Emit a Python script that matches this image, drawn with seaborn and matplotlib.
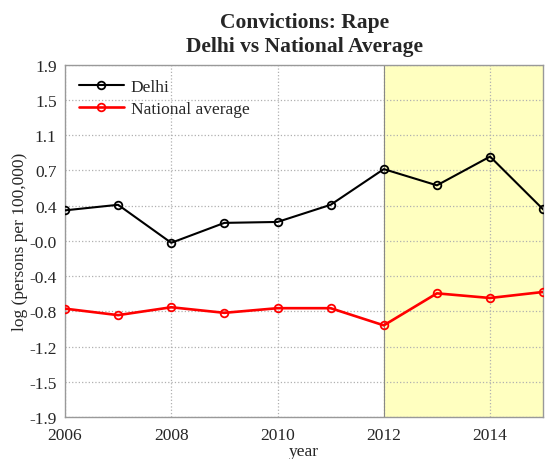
import numpy as np
import pandas as pd
import seaborn as sns
import matplotlib
matplotlib.use('Agg')
import matplotlib.pyplot as plt

years = [2006, 2007, 2008, 2009, 2010, 2011, 2012, 2013, 2014, 2015]
delhi = [0.33, 0.39, -0.02, 0.195, 0.205, 0.39, 0.775, 0.60, 0.91, 0.34]
national = [-0.73, -0.80, -0.715, -0.775, -0.725, -0.725, -0.91, -0.565, -0.615, -0.55]
series_names = ['Delhi', 'National average']
y_tick_labels = ['-1.9', '-1.5', '-1.2', '-0.8', '-0.4', '-0.0', '0.4', '0.7', '1.1', '1.5', '1.9']

df = pd.DataFrame({
    'year': years * 2,
    'value': delhi + national,
    'series': [series_names[0]] * len(years) + [series_names[1]] * len(years),
})

sns.set_style('white')
plt.rcParams['font.family'] = ['Liberation Serif', 'DejaVu Serif']

fig = plt.figure(figsize=(5.6, 4.6), dpi=100)
ax = fig.add_axes([0.116, 0.091, 0.854, 0.766])

# shaded period after 2012
ax.axvspan(2012, 2015, color='#ffffc0', zorder=0)
ax.axvline(2012, color='#888888', lw=0.8, zorder=1)

sns.lineplot(data=df, x='year', y='value', hue='series',
             palette={'Delhi': 'black', 'National average': 'red'},
             marker='o', markersize=5.5, linewidth=1.5, ax=ax, zorder=3)
for line in ax.lines:
    if line.get_marker() == 'o':
        line.set_markerfacecolor('none')
        line.set_markeredgecolor(line.get_color())
        line.set_markeredgewidth(1.3)
        if line.get_color() == 'red':
            line.set_linewidth(1.9)

ax.set_xlim(2006, 2015)
ax.set_ylim(-1.9, 1.9)
ax.set_xticks([2006, 2008, 2010, 2012, 2014])
ax.set_yticks(np.linspace(-1.9, 1.9, 11))
ax.set_yticklabels(y_tick_labels)
ax.tick_params(axis='y', length=0, labelsize=12.5, pad=6)
ax.tick_params(axis='x', length=0, labelsize=12.5, pad=7)
ax.grid(True, linestyle=':', color='#b0b0b0', lw=0.9)
for s in ax.spines.values():
    s.set_color('#999999')
    s.set_linewidth(1.0)

ax.set_xlabel('year', fontsize=12.5, labelpad=0)
ax.set_ylabel('log (persons per 100,000)', fontsize=12.5, labelpad=1)
ax.set_title('Convictions: Rape\nDelhi vs National Average', fontsize=15.5,
             fontweight='bold', pad=10, linespacing=1.25)

leg = ax.legend(loc='upper left', frameon=False, fontsize=12.5, handlelength=2.6,
                borderaxespad=0.4, labelspacing=0.35, handletextpad=0.4)
for h, c in zip(leg.legend_handles, ['black', 'red']):
    h.set_markerfacecolor('none')
    h.set_markeredgecolor(c)

fig.savefig('out.png', dpi=100)
